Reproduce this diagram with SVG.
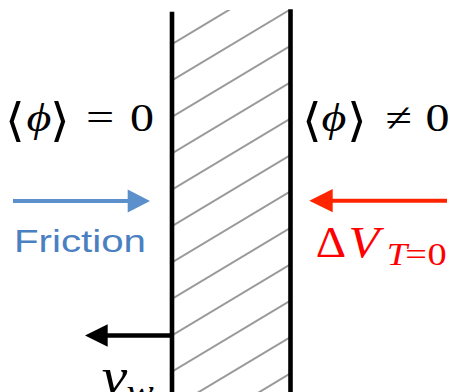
<svg xmlns="http://www.w3.org/2000/svg" width="450" height="392" viewBox="0 0 450 392">
  <style>
    .m { font-family: "Liberation Serif", "DejaVu Serif", serif; font-size: 40px; text-anchor: middle; }
    .br { font-family: "DejaVu Serif", "DejaVu Sans", serif; font-size: 46px; text-anchor: middle; }
    .it { font-style: italic; }
    .red { fill: #ff0000; }
    .hatch { stroke: #9a9a9a; stroke-width: 2; }
    .wall { stroke: #000; stroke-width: 4.6; }
  </style>
  <defs>
    <clipPath id="wallClip">
      <rect x="172" y="10" width="118" height="382"/>
    </clipPath>
  </defs>
  <rect width="450" height="392" fill="#fff"/>

  <g id="wall">
    <g clip-path="url(#wallClip)">
      <line class="hatch" x1="172" y1="44.1" x2="290" y2="-26.7"/>
      <line class="hatch" x1="172" y1="80.5" x2="290" y2="9.7"/>
      <line class="hatch" x1="172" y1="116.9" x2="290" y2="46.1"/>
      <line class="hatch" x1="172" y1="153.3" x2="290" y2="82.5"/>
      <line class="hatch" x1="172" y1="189.7" x2="290" y2="118.9"/>
      <line class="hatch" x1="172" y1="226.1" x2="290" y2="155.3"/>
      <line class="hatch" x1="172" y1="262.5" x2="290" y2="191.7"/>
      <line class="hatch" x1="172" y1="298.9" x2="290" y2="228.1"/>
      <line class="hatch" x1="172" y1="335.3" x2="290" y2="264.5"/>
      <line class="hatch" x1="172" y1="371.7" x2="290" y2="300.9"/>
      <line class="hatch" x1="172" y1="408.1" x2="290" y2="337.3"/>
      <line class="hatch" x1="172" y1="444.5" x2="290" y2="373.7"/>
    </g>
    <line class="wall" x1="172" y1="11.7" x2="172" y2="392"/>
    <line class="wall" x1="290.5" y1="9.3" x2="290.5" y2="392"/>
  </g>

  <g id="label-left">
    <text class="br" transform="translate(15,136) scale(1.1,1)">⟨</text>
    <text class="m it" transform="translate(39,131) scale(1.2,1)">ϕ</text>
    <text class="br" transform="translate(60,136) scale(1.1,1)">⟩</text>
    <text class="m" transform="translate(100,131) scale(1.25,1)">=</text>
    <text class="m" transform="translate(142,131) scale(1.2,1)">0</text>
  </g>

  <g id="label-right">
    <text class="br" transform="translate(312,136) scale(1.1,1)">⟨</text>
    <text class="m it" transform="translate(334,131) scale(1.2,1)">ϕ</text>
    <text class="br" transform="translate(357,136) scale(1.1,1)">⟩</text>
    <text class="m" transform="translate(399,131) scale(1.2,1)">≠</text>
    <text class="m" transform="translate(437.5,131) scale(1.2,1)">0</text>
  </g>

  <g id="label-friction">
    <text x="14" y="252" fill="#4a80c2" font-family="Liberation Sans, Arial, sans-serif" font-size="31" textLength="132" lengthAdjust="spacingAndGlyphs">Friction</text>
  </g>

  <g id="label-dv">
    <text class="m red" style="font-size:45px" transform="translate(331,257) scale(1.05,1)">Δ</text>
    <text class="m it red" style="font-size:45px" transform="translate(364,257) scale(1.12,1)">V</text>
    <text class="m it red" style="font-size:32px" transform="translate(397,265) scale(1.15,1)">T</text>
    <text class="m red" style="font-size:32px" transform="translate(416,265) scale(1.2,1)">=</text>
    <text class="m red" style="font-size:32px" transform="translate(437,265) scale(1.2,1)">0</text>
  </g>

  <g id="label-vw">
    <text class="m it" style="font-size:50px" transform="translate(114.5,393) scale(1.15,1)">v</text>
    <text class="m it" style="font-size:34px" transform="translate(140,403) scale(1.2,1)">w</text>
  </g>

  <g id="connectors">
    <line x1="13" y1="201" x2="129" y2="201" stroke="#5b90cc" stroke-width="4"/>
    <polygon points="127.7,189.5 150,201 127.7,212.5" fill="#5b90cc"/>
    <line x1="332" y1="200.7" x2="447" y2="200.7" stroke="#ff2400" stroke-width="4"/>
    <polygon points="332.7,189 309.3,200.7 332.7,212.3" fill="#ff2400"/>
    <line x1="106" y1="335.5" x2="172" y2="335.5" stroke="#000" stroke-width="4.6"/>
    <polygon points="107.7,324.3 85,335.5 107.7,346.7" fill="#000"/>
  </g>
</svg>
